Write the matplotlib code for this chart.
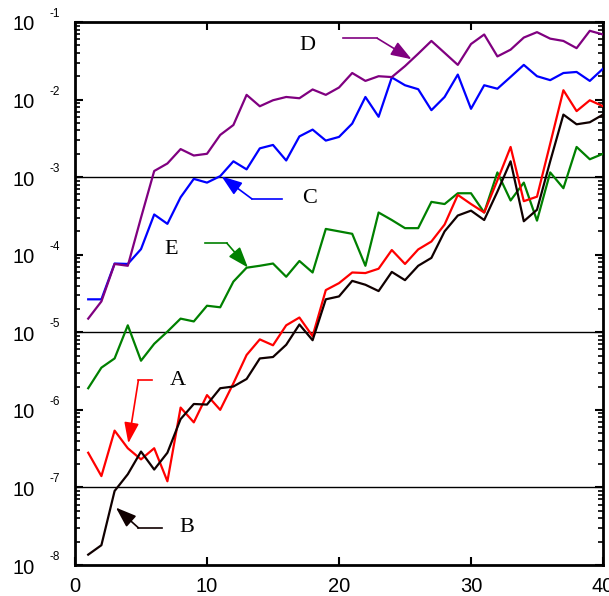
import numpy as np
import matplotlib
matplotlib.use('Agg')
import matplotlib.pyplot as plt
from matplotlib.ticker import LogLocator, NullFormatter

# du lieu doc tu hinh (x = 1..40)
x = np.arange(1, 41)

A = [2.8e-7, 1.4e-7, 5.4e-7, 3.2e-7, 2.3e-7, 3.2e-7, 1.2e-7, 1.07e-6, 6.9e-7, 1.55e-6,
     1.0e-6, 2.2e-6, 5.1e-6, 8.1e-6, 6.8e-6, 1.23e-5, 1.55e-5, 8.9e-6, 3.5e-5, 4.3e-5,
     5.9e-5, 5.8e-5, 6.6e-5, 1.15e-4, 7.6e-5, 1.17e-4, 1.48e-4, 2.45e-4, 5.9e-4, 4.5e-4,
     3.5e-4, 9.1e-4, 2.45e-3, 4.9e-4, 5.6e-4, 2.7e-3, 1.32e-2, 7.1e-3, 9.8e-3, 8.2e-3]

B = [1.36e-8, 1.8e-8, 9e-8, 1.48e-7, 2.9e-7, 1.7e-7, 2.8e-7, 7.6e-7, 1.19e-6, 1.17e-6,
     1.9e-6, 2.0e-6, 2.5e-6, 4.6e-6, 4.8e-6, 6.9e-6, 1.26e-5, 7.9e-6, 2.66e-5, 2.9e-5,
     4.6e-5, 4.1e-5, 3.4e-5, 6.0e-5, 4.7e-5, 7.2e-5, 9.1e-5, 2.0e-4, 3.2e-4, 3.7e-4,
     2.8e-4, 6.5e-4, 1.6e-3, 2.7e-4, 3.8e-4, 1.6e-3, 6.4e-3, 4.8e-3, 5.1e-3, 6.4e-3]

C = [2.66e-5, 2.66e-5, 7.7e-5, 7.6e-5, 1.18e-4, 3.3e-4, 2.5e-4, 5.5e-4, 9.5e-4, 8.5e-4,
     1.03e-3, 1.6e-3, 1.26e-3, 2.35e-3, 2.6e-3, 1.64e-3, 3.35e-3, 4.1e-3, 2.96e-3, 3.3e-3,
     4.9e-3, 1.08e-2, 6.0e-3, 1.93e-2, 1.53e-2, 1.36e-2, 7.3e-3, 1.08e-2, 2.1e-2, 7.6e-3,
     1.53e-2, 1.38e-2, 1.96e-2, 2.8e-2, 2.0e-2, 1.78e-2, 2.2e-2, 2.27e-2, 1.74e-2, 2.5e-2]

D = [1.5e-5, 2.5e-5, 7.6e-5, 7.2e-5, 3.0e-4, 1.2e-3, 1.5e-3, 2.3e-3, 1.9e-3, 2.0e-3,
     3.5e-3, 4.7e-3, 1.15e-2, 8.2e-3, 9.8e-3, 1.08e-2, 1.04e-2, 1.35e-2, 1.15e-2, 1.43e-2,
     2.2e-2, 1.74e-2, 2.0e-2, 1.95e-2, 2.7e-2, 3.9e-2, 5.7e-2, 4.0e-2, 2.8e-2, 5.2e-2,
     6.9e-2, 3.6e-2, 4.4e-2, 6.3e-2, 7.4e-2, 6.1e-2, 5.7e-2, 4.6e-2, 7.7e-2, 6.9e-2]

E = [1.9e-6, 3.5e-6, 4.6e-6, 1.23e-5, 4.3e-6, 7.1e-6, 1.02e-5, 1.5e-5, 1.38e-5, 2.2e-5,
     2.1e-5, 4.5e-5, 6.8e-5, 7.2e-5, 7.7e-5, 5.2e-5, 8.3e-5, 5.9e-5, 2.15e-4, 2.0e-4,
     1.86e-4, 7.2e-5, 3.5e-4, 2.8e-4, 2.2e-4, 2.2e-4, 4.8e-4, 4.5e-4, 6.2e-4, 6.2e-4,
     3.5e-4, 1.15e-3, 5.0e-4, 8.5e-4, 2.75e-4, 1.15e-3, 7.2e-4, 2.45e-3, 1.7e-3, 2.0e-3]

x_ticks = [0, 10, 20, 30, 40]
y_exps = [-1, -2, -3, -4, -5, -6, -7, -8]
h_lines = [1e-3, 1e-5, 1e-7]

fig = plt.figure(figsize=(6.09, 5.96), dpi=100)
ax = fig.add_axes([75 / 609, 1 - 565 / 596, 528 / 609, 543 / 596])

for yl in h_lines:
    ax.axhline(yl, color='black', lw=1.0, zorder=1)

ax.plot(x, E, color='#008000', lw=1.6, zorder=3)
ax.plot(x, C, color='#0000ff', lw=1.6, zorder=3)
ax.plot(x, D, color='#800080', lw=1.6, zorder=3)
ax.plot(x, A, color='#ff0000', lw=1.6, zorder=4)
ax.plot(x, B, color='#100000', lw=1.6, zorder=5)

ax.set_yscale('log')
ax.set_xlim(0, 40)
ax.set_ylim(1e-8, 1e-1)

# nhan chu va mui ten: (nhan, goc, diem gap, dinh mui ten, mau)
nhan = [
    ('D', (17.6, 10**-1.30), (20.3, 10**-1.21), (22.9, 10**-1.21), (25.5, 10**-1.48), '#800080'),
    ('C', (17.8, 10**-3.28), (15.7, 10**-3.28), (13.4, 10**-3.28), (11.1, 10**-2.99), '#0000ff'),
    ('E', (7.3, 10**-3.93), (9.85, 10**-3.85), (11.5, 10**-3.85), (13.1, 10**-4.165), '#008000'),
    ('A', (7.8, 10**-5.62), (5.8, 10**-5.62), (4.8, 10**-5.62), (4.04, 10**-6.43), '#ff0000'),
    ('B', (8.5, 10**-7.52), (6.6, 10**-7.52), (4.8, 10**-7.52), (3.1, 10**-7.26), '#100000'),
]
for ten, pos, p0, p1, tip, col in nhan:
    ax.text(pos[0], pos[1], ten, fontsize=16, family='Liberation Serif',
            ha='center', va='center', zorder=6)
    ax.plot([p0[0], p1[0]], [p0[1], p1[1]], color=col, lw=1.2, zorder=6)
    ax.annotate('', xy=tip, xytext=p1,
                arrowprops=dict(arrowstyle='-|>,head_length=0.7,head_width=0.25',
                                color=col, lw=1.2, mutation_scale=18,
                                shrinkA=0, shrinkB=0), zorder=6)

# truc va vach chia
for s in ax.spines.values():
    s.set_linewidth(2)
ax.set_xticks(x_ticks)
ax.set_xticklabels([str(v) for v in x_ticks], fontsize=14.5, family='Liberation Sans')
ax.yaxis.set_major_locator(LogLocator(base=10, numticks=20))
ax.yaxis.set_minor_locator(LogLocator(base=10, subs=np.arange(2, 10), numticks=20))
ax.yaxis.set_major_formatter(NullFormatter())
ax.yaxis.set_minor_formatter(NullFormatter())
ax.tick_params(axis='both', which='major', direction='in', length=6, width=1.5,
               top=True, right=True)
ax.tick_params(axis='y', which='minor', direction='in', length=3.5, width=1.2,
               left=True, right=True)
ax.tick_params(axis='x', which='major', pad=8.5)

for k in y_exps:
    ax.annotate('10', xy=(0, 10.0**k), xycoords=('axes fraction', 'data'),
                xytext=(-51, -3), textcoords='offset pixels', ha='center', va='center',
                fontsize=14.5, family='Liberation Sans', annotation_clip=False)
    ax.annotate(str(k), xy=(0, 10.0**k), xycoords=('axes fraction', 'data'),
                xytext=(-26, 8), textcoords='offset pixels', ha='left', va='center',
                fontsize=8.5, family='Liberation Sans', annotation_clip=False)

fig.savefig('out.png', dpi=100)
